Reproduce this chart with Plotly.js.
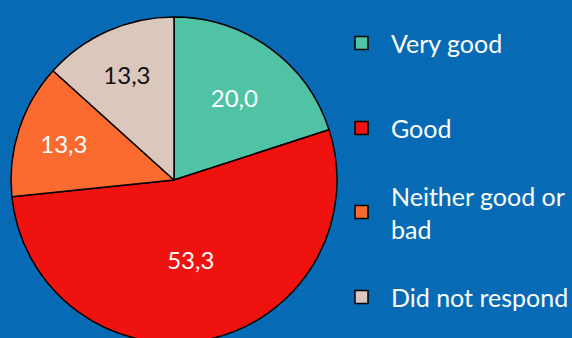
<!DOCTYPE html>
<html>
<head>
<meta charset="utf-8">
<script src="https://cdn.plot.ly/plotly-3.0.1.min.js"></script>
<style>
html,body{margin:0;padding:0;background:#066bb4;overflow:hidden;width:572px;height:338px;}
#chart{width:572px;height:346px;}
</style>
</head>
<body>
<div id="chart"></div>
<script>
const categories = ["Very good", "Good", "Neither good or bad", "Did not respond"];
const legendLabels = ["Very good", "Good", "Neither good or<br>bad", "Did not respond"];
const values = [20.0, 53.3, 13.3, 13.3];
const colors = ["#4fc3a4", "#f0120f", "#fb6b30", "#dcc7bc"];
const textColors = ["#ffffff", "#ffffff", "#ffffff", "#111111"];

const W = 572, H = 346;
const FONT = "Lato, 'Open Sans', sans-serif";

const trace = {
  type: "pie",
  labels: categories,
  values: values,
  sort: false,
  direction: "clockwise",
  rotation: 0,
  marker: {colors: colors, line: {color: "#000000", width: 1.5}},
  texttemplate: "%{value:.1f}",
  textposition: "inside",
  insidetextorientation: "horizontal",
  insidetextfont: {family: FONT, size: 24, color: textColors},
  hoverinfo: "none",
  showlegend: false,
  domain: {x: [11 / W, 337 / W], y: [1 - 343 / H, 1 - 17 / H]}
};

// manual legend
const legendY = [43, 128, 212, 297];
const shapes = [];
const annotations = [];
categories.forEach((c, i) => {
  const cy = legendY[i];
  shapes.push({
    type: "rect", xref: "paper", yref: "paper",
    x0: 355 / W, x1: 368 / W, y0: 1 - (cy + 6.5) / H, y1: 1 - (cy - 6.5) / H,
    fillcolor: colors[i], line: {color: "#000000", width: 1.5}
  });
  annotations.push({
    xref: "paper", yref: "paper", x: 389 / W, y: 1 - cy / H,
    xanchor: "left", yanchor: "middle", align: "left", showarrow: false,
    text: legendLabels[i],
    font: {family: FONT, size: 25, color: "#ffffff"}
  });
});

const layout = {
  width: W, height: H,
  margin: {l: 0, r: 0, t: 0, b: 0},
  paper_bgcolor: "#066bb4",
  plot_bgcolor: "#066bb4",
  separators: ",.",
  showlegend: false,
  shapes: shapes,
  annotations: annotations
};

Plotly.newPlot("chart", [trace], layout, {displayModeBar: false, staticPlot: true});
</script>
</body>
</html>
